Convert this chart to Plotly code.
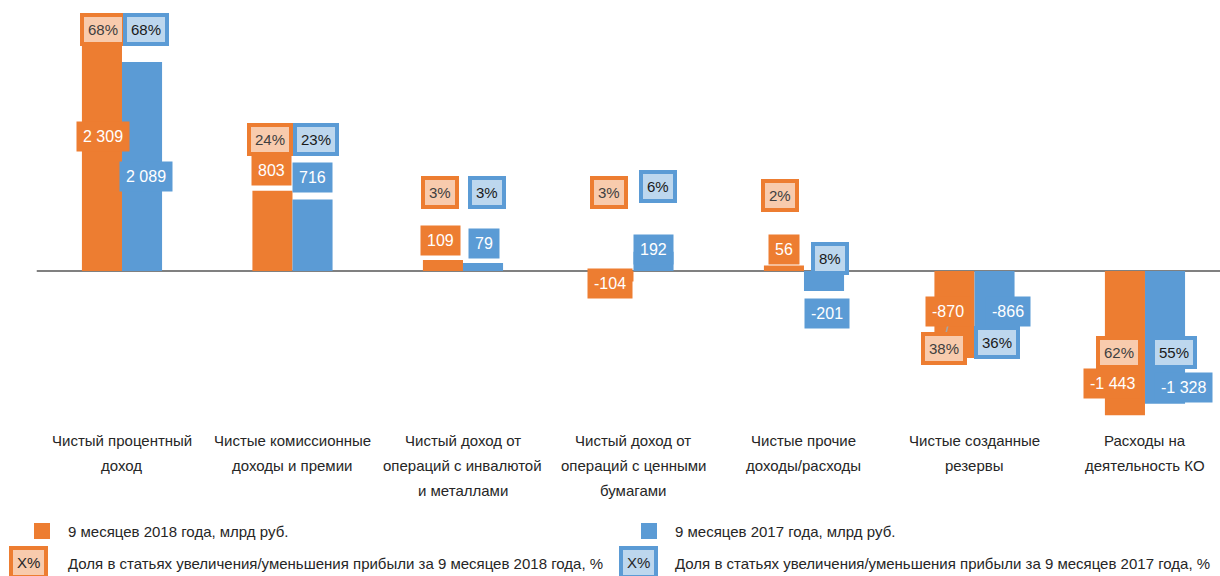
import plotly.graph_objects as go

categories = [
    "Чистый процентный\nдоход",
    "Чистые комиссионные\nдоходы и премии",
    "Чистый доход от\nопераций с инвалютой\nи металлами",
    "Чистый доход от\nопераций с ценными\nбумагами",
    "Чистые прочие\nдоходы/расходы",
    "Чистые созданные\nрезервы",
    "Расходы на\nдеятельность КО",
]
values_2018 = [2309, 803, 109, -104, 56, -870, -1443]
values_2017 = [2089, 716, 79, 192, -201, -866, -1328]
share_2018 = [68, 24, 3, 3, 2, 38, 62]
share_2017 = [68, 23, 3, 6, 8, 36, 55]

series_2018 = "9 месяцев 2018 года, млрд руб."
series_2017 = "9 месяцев 2017 года, млрд руб."
share_2018_name = "Доля в статьях увеличения/уменьшения прибыли за 9 месяцев 2018 года, %"
share_2017_name = "Доля в статьях увеличения/уменьшения прибыли за 9 месяцев 2017 года, %"

ORANGE = "#ED7D31"
BLUE = "#5B9BD5"
ORANGE_LIGHT = "#F8CBAD"
BLUE_LIGHT = "#BDD7EE"
FONT = "Liberation Sans, Arial, sans-serif"
FS = 15

W, H = 1220, 576

# label placement: (x offset from category centre, y in data units)
val_pos_2018 = [(-0.11, 1350), (-0.126, 1010), (-0.13, 310), (-0.138, -120), (-0.117, 220), (-0.155, -400), (-0.188, -1120)]
val_pos_2017 = [(0.14, 950), (0.12, 940), (0.123, 280), (0.12, 220), (0.135, -420), (0.196, -400), (0.223, -1160)]
pct_pos_2018 = [(-0.111, 2420), (-0.132, 1320), (-0.135, 790), (-0.144, 790), (-0.14, 760), (-0.18, -770), (-0.152, -810)]
pct_pos_2017 = [(0.14, 2420), (0.138, 1320), (0.14, 790), (0.144, 850), (0.152, 130), (0.13, -710), (0.17, -810)]


def fmt(v):
    s = f"{abs(v):,}".replace(",", " ")
    return ("-" if v < 0 else "") + s


x = list(range(len(categories)))
fig = go.Figure()
fig.add_trace(go.Bar(x=x, y=values_2018, width=0.235, offset=-0.235,
                     marker=dict(color=ORANGE, line=dict(width=0)), name=series_2018))
fig.add_trace(go.Bar(x=x, y=values_2017, width=0.235, offset=0,
                     marker=dict(color=BLUE, line=dict(width=0)), name=series_2017))

annotations = []
for i in x:
    for v, (dx, yy), col in ((values_2018[i], val_pos_2018[i], ORANGE),
                             (values_2017[i], val_pos_2017[i], BLUE)):
        annotations.append(dict(x=i + dx, y=yy, xref="x", yref="y", text=fmt(v),
                                showarrow=False, bgcolor=col, borderpad=6,
                                xanchor="center", yanchor="middle",
                                font=dict(family=FONT, size=FS + 1, color="white")))
    for p, (dx, yy), col, light, tc in ((share_2018[i], pct_pos_2018[i], ORANGE, ORANGE_LIGHT, "#404040"),
                                        (share_2017[i], pct_pos_2017[i], BLUE, BLUE_LIGHT, "#1a1a1a")):
        annotations.append(dict(x=i + dx, y=yy, xref="x", yref="y", text=f"{p}%",
                                showarrow=False, bgcolor=light, bordercolor=col,
                                borderwidth=4, borderpad=4,
                                xanchor="center", yanchor="middle",
                                font=dict(family=FONT, size=FS, color=tc)))
    # category labels, one line each
    for k, line in enumerate(categories[i].split("\n")):
        annotations.append(dict(x=i, y=1 - (440 + 25 * k) / H, xref="x", yref="paper",
                                text=line, showarrow=False, xanchor="center", yanchor="middle",
                                font=dict(family=FONT, size=FS, color="#262626")))

# legend built by hand
legend_rows = [
    (66, 531, series_2018), (673, 531, series_2017),
    (66, 563, share_2018_name), (673, 563, share_2017_name),
]
for lx, ly, txt in legend_rows:
    annotations.append(dict(x=lx / W, y=1 - ly / H, xref="paper", yref="paper", text=txt,
                            showarrow=False, xanchor="left", yanchor="middle",
                            font=dict(family=FONT, size=FS, color="#262626")))
for bx, col, light in ((28, ORANGE, ORANGE_LIGHT), (638, BLUE, BLUE_LIGHT)):
    annotations.append(dict(x=bx / W, y=1 - 562 / H, xref="paper", yref="paper", text="X%",
                            showarrow=False, bgcolor=light, bordercolor=col, borderwidth=4,
                            borderpad=4, xanchor="center", yanchor="middle",
                            font=dict(family=FONT, size=FS, color="#262626")))

shapes = [
    dict(type="line", xref="x", yref="y", x0=-0.5, x1=6.44, y0=0, y1=0,
         line=dict(color="#808080", width=2), layer="below"),
    dict(type="rect", xref="paper", yref="paper", x0=34 / W, x1=50 / W,
         y0=1 - 539 / H, y1=1 - 523 / H, fillcolor=ORANGE, line=dict(width=0)),
    dict(type="rect", xref="paper", yref="paper", x0=641 / W, x1=657 / W,
         y0=1 - 539 / H, y1=1 - 523 / H, fillcolor=BLUE, line=dict(width=0)),
    # leader lines from reserve values to their shares
    dict(type="line", xref="x", yref="y", x0=5 - 0.145, x1=5 - 0.17, y0=-470, y1=-640,
         line=dict(color="#A6A6A6", width=1.5)),
    dict(type="line", xref="x", yref="y", x0=5 + 0.165, x1=5 + 0.18, y0=-470, y1=-600,
         line=dict(color="#A6A6A6", width=1.5)),
]

fig.update_layout(
    width=W, height=H,
    margin=dict(l=0, r=0, t=0, b=0),
    paper_bgcolor="white", plot_bgcolor="white",
    showlegend=False,
    xaxis=dict(range=[-0.7155, 6.44], visible=False, fixedrange=True),
    yaxis=dict(range=[-3050, 2710], visible=False, fixedrange=True),
    annotations=annotations,
    shapes=shapes,
    font=dict(family=FONT),
)

fig.write_html("out.html", config={"displayModeBar": False},
               post_script="document.body.style.margin='0px';")
